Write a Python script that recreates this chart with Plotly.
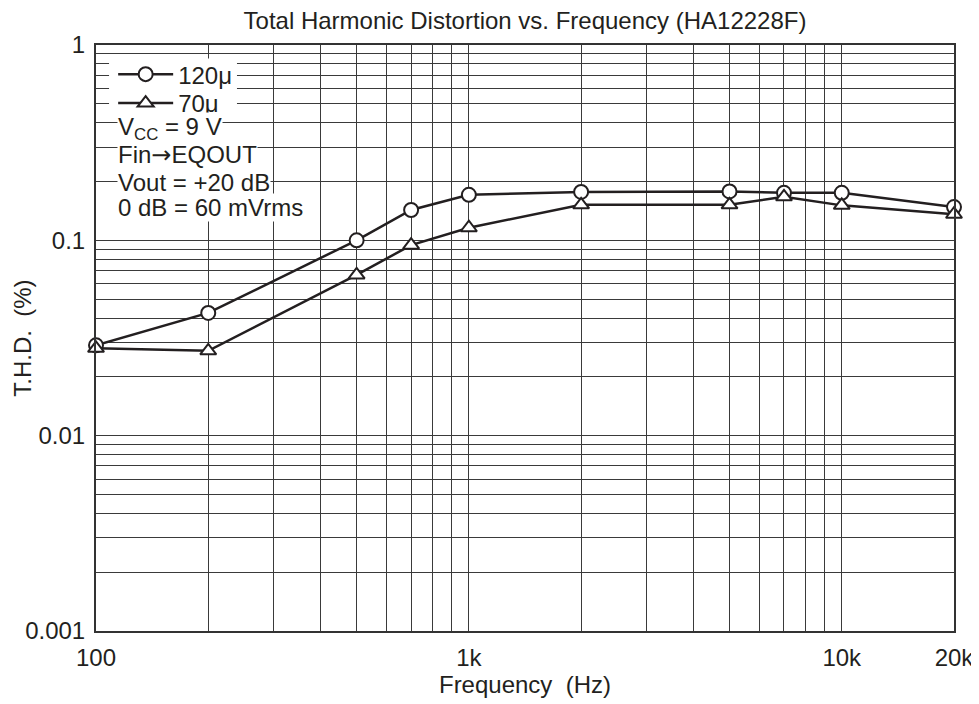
import plotly.graph_objects as go

freq = [100, 200, 500, 700, 1000, 2000, 5000, 7000, 10000, 20000]
thd_120u = [0.029, 0.0425, 0.100, 0.143, 0.171, 0.177, 0.178, 0.175, 0.175, 0.148]
thd_70u = [0.028, 0.0272, 0.0665, 0.0945, 0.116, 0.152, 0.152, 0.167, 0.151, 0.136]

x_tick_vals = [100, 1000, 10000, 20000]
x_tick_text = ["100", "1k", "10k", "20k"]
y_tick_vals = [0.001, 0.01, 0.1, 1]
y_tick_text = ["0.001", "0.01", "0.1", "1"]
x_minor = [m * d for d in (100, 1000) for m in range(2, 10)] + [10000]
y_minor = [m * d for d in (0.001, 0.01, 0.1) for m in range(2, 10)]

series_names = ["120\u03bc", "70\u03bc"]
notes = ["V<sub>CC</sub> = 9 V",
         "Fin<span style=\"font-family:'DejaVu Sans'\">\u2192</span>EQOUT",
         "Vout = +20 dB", "0 dB = 60 mVrms"]

FONT = "Liberation Sans, Arial, Helvetica, sans-serif"
FS = 24
INK = "#231f20"
GRID = "#3a3a3a"

fig = go.Figure()
fig.add_trace(go.Scatter(
    x=freq, y=thd_120u, mode="lines+markers", name=series_names[0],
    line=dict(color=INK, width=2.5),
    marker=dict(symbol="circle", size=14, color="white", line=dict(color=INK, width=2)),
    cliponaxis=False, legend="legend",
))
fig.add_trace(go.Scatter(
    x=freq, y=thd_70u, mode="lines+markers", name=series_names[1],
    line=dict(color=INK, width=2.5),
    marker=dict(symbol="triangle-up", size=14, color="white", line=dict(color=INK, width=2)),
    cliponaxis=False, legend="legend2",
))

# white backing behind the legend entries (hides grid like the original)
fig.add_shape(type="rect", xref="paper", yref="paper",
              x0=0.0152, x1=0.1643, y0=0.8788, y1=0.9770,
              fillcolor="white", line=dict(width=0), layer="above")

note_y = [0.858, 0.812, 0.766, 0.722]
for t, yy in zip(notes, note_y):
    fig.add_annotation(
        text=t, xref="paper", yref="paper", x=0.0245, y=yy,
        xanchor="left", yanchor="middle", showarrow=False,
        font=dict(family=FONT, size=FS, color=INK),
        bgcolor="white", borderpad=0,
    )

# y-axis title as rotated text
fig.add_annotation(
    text="T.H.D.  (%)", xref="paper", yref="paper", x=-0.0865, y=0.5,
    xanchor="center", yanchor="middle", textangle=-90, showarrow=False,
    font=dict(family=FONT, size=FS, color=INK),
)

axis_common = dict(
    type="log", showline=True, linecolor="#333", linewidth=2, mirror=True,
    showgrid=True, gridcolor=GRID, gridwidth=1, ticks="", zeroline=False,
    tickfont=dict(family=FONT, size=FS, color=INK), automargin=False,
)

fig.update_xaxes(
    **axis_common,
    range=[2, 4.30103], tickmode="array", tickvals=x_tick_vals, ticktext=x_tick_text,
    ticklabelstandoff=4,
    minor=dict(tickmode="array", tickvals=x_minor, showgrid=True, gridcolor=GRID, gridwidth=1, ticks=""),
    title=dict(text="Frequency  (Hz)", font=dict(family=FONT, size=FS, color=INK), standoff=6),
)
fig.update_yaxes(
    **axis_common,
    range=[-3, 0], tickmode="array", tickvals=y_tick_vals, ticktext=y_tick_text,
    ticklabelstandoff=4,
    minor=dict(tickmode="array", tickvals=y_minor, showgrid=True, gridcolor=GRID, gridwidth=1, ticks=""),
)

legend_common = dict(
    xanchor="left", yanchor="top", bgcolor="rgba(0,0,0,0)", borderwidth=0,
    font=dict(family=FONT, size=FS, color=INK), itemwidth=55,
)

fig.update_layout(
    width=971, height=696,
    margin=dict(l=88, r=25, t=37, b=73, autoexpand=False),
    paper_bgcolor="white", plot_bgcolor="white",
    title=dict(text="Total Harmonic Distortion vs. Frequency (HA12228F)",
               font=dict(family=FONT, size=FS, color=INK),
               x=0.5, xref="paper", xanchor="center", y=0.982, yanchor="middle",
               automargin=False),
    showlegend=True,
    legend=dict(x=0.020, y=0.988, **legend_common),
    legend2=dict(x=0.020, y=0.9386, **legend_common),
)

fig.write_html("out.html")
